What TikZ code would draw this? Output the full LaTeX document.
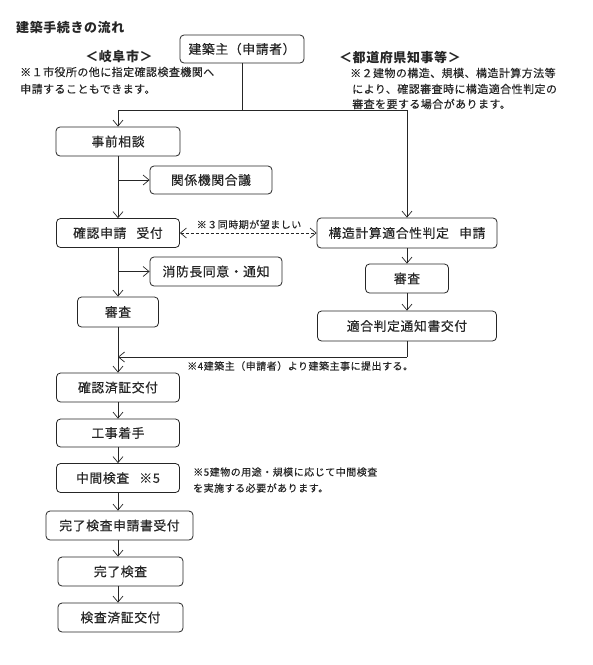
\documentclass[tikz,border=0pt]{standalone}
\usepackage{fontspec}
\setmainfont{Noto Sans CJK JP}
\usetikzlibrary{arrows.meta}
\definecolor{ink}{HTML}{262626}
\newcommand\boxfont{\fontsize{12.8}{14}\selectfont\addfontfeature{LetterSpace=5,FakeBold=0.4}}
\newcommand\notefont{\fontsize{11}{12}\selectfont\addfontfeature{LetterSpace=4,FakeBold=0.3}}
\newcommand\smallnotefont{\fontsize{10}{11}\selectfont\addfontfeature{LetterSpace=5,FakeBold=0.3}}
\newcommand\headfont{\fontsize{13}{14}\selectfont\bfseries\addfontfeature{LetterSpace=4.5}}
\tikzset{
  box/.style={draw=ink, line width=0.8pt, rounded corners=4pt, inner sep=0pt,
    font=\boxfont, text=ink, minimum height=29pt},
  txt/.style={inner sep=0pt, text=ink, anchor=west},
  ln/.style={draw=ink, line width=0.7pt},
  arr/.style={ln, -{Straight Barb[length=6pt,width=10pt,line width=0.7pt]}},
  darr/.style={ln, dash pattern=on 3pt off 2pt,
    {Straight Barb[length=6pt,width=10pt,line width=0.7pt]}-{Straight Barb[length=6pt,width=10pt,line width=0.7pt]}},
}
\begin{document}
\begin{tikzpicture}[x=1pt,y=-1pt]
\useasboundingbox[fill=white] (0,0) rectangle (593,665);
% headings and notes
\node[txt, font=\headfont] (title) at (16,27.5) {建築手続きの流れ};
\node[txt, font=\headfont, anchor=center] (gifu) at (119,56.5) {＜岐阜市＞};
\node[txt, font=\notefont] (n1a) at (20,72) {※１市役所の他に指定確認検査機関へ};
\node[txt, font=\notefont] (n1b) at (20,89) {申請することもできます。};
\node[txt, font=\headfont, anchor=center] (pref) at (400,58) {＜都道府県知事等＞};
\node[txt, font=\notefont] (n2a) at (350,73) {※２建物の構造、規模、構造計算方法等};
\node[txt, font=\notefont] (n2b) at (352,89) {により、確認審査時に構造適合性判定の};
\node[txt, font=\notefont] (n2c) at (352,104) {審査を要する場合があります。};
% boxes
\node[box, minimum width=124pt, minimum height=28pt] (owner) at (242,49) {建築主（申請者）};
\node[box, minimum width=124pt] (jizen) at (118,141.5) {事前相談};
\node[box, minimum width=122pt, minimum height=28pt] (kankei) at (211,180) {関係機関合議};
\node[box, minimum width=123pt] (kakunin) at (118,233) {確認申請\hspace{0.8em}受付};
\node[box, minimum width=180pt, minimum height=30pt] (kozo) at (407,233) {構造計算適合性判定\hspace{0.8em}申請};
\node[box, minimum width=132pt] (shobo) at (216,271.5) {消防長同意・通知};
\node[box, minimum width=81pt, minimum height=30pt] (shinsaL) at (118,312) {審査};
\node[box, minimum width=83pt] (shinsaR) at (407,278.5) {審査};
\node[box, minimum width=179pt, minimum height=30pt] (tekigo) at (407,326) {適合判定通知書交付};
\node[box, minimum width=123pt, minimum height=29pt] (sumisho) at (118,387.5) {確認済証交付};
\node[box, minimum width=123pt, minimum height=28pt] (koji) at (118,433) {工事着手};
\node[box, minimum width=123pt] (chukan) at (118,478) {中間検査\hspace{0.8em}※5};
\node[box, minimum width=147pt] (kanryoU) at (119.5,525.5) {完了検査申請書受付};
\node[box, minimum width=125pt] (kanryo) at (120.5,571.5) {完了検査};
\node[box, minimum width=125pt] (kensa) at (120.5,617.5) {検査済証交付};
% side notes
\node[txt, font=\smallnotefont, anchor=center] (n3) at (249,224.5) {※３同時期が望ましい};
\node[txt, font=\smallnotefont] (n4) at (187,366) {※4建築主（申請者）より建築主事に提出する。};
\node[txt, font=\smallnotefont] (n5a) at (193,472) {※5建物の用途・規模に応じて中間検査};
\node[txt, font=\smallnotefont] (n5b) at (193,488) {を実施する必要があります。};
% connectors
\coordinate (split) at (242,110);
\coordinate (jl) at (118,110);
\coordinate (jr) at (407,110);
\coordinate (tk) at (407,357);
\coordinate (tkl) at (118,357);
\draw[ln] (owner.south) -- (split);
\draw[ln] (jl) -- (jr);
\draw[arr] (jl) -- (jizen.north);
\draw[arr] (jr) -- (kozo.north);
\draw[arr] (jizen.south) -- (kakunin.north);
\draw[arr] (jizen.south |- kankei.west) -- (kankei.west);
\draw[darr] (kakunin.east) -- (kozo.west);
\draw[arr] (kakunin.south) -- (shinsaL.north);
\draw[arr] (kakunin.south |- shobo.west) -- (shobo.west);
\draw[arr] (shinsaL.south) -- (sumisho.north);
\draw[arr] (kozo.south) -- (shinsaR.north);
\draw[arr] (shinsaR.south) -- (tekigo.north);
\draw[ln] (tekigo.south) -- (tk);
\draw[arr] (tk) -- (tkl);
\draw[arr] (sumisho.south) -- (koji.north);
\draw[arr] (koji.south) -- (chukan.north);
\draw[arr] (chukan.south) -- (chukan.south |- kanryoU.north);
\draw[arr] (chukan.south |- kanryoU.south) -- (chukan.south |- kanryo.north);
\draw[arr] (chukan.south |- kanryo.south) -- (chukan.south |- kensa.north);
\end{tikzpicture}
\end{document}
